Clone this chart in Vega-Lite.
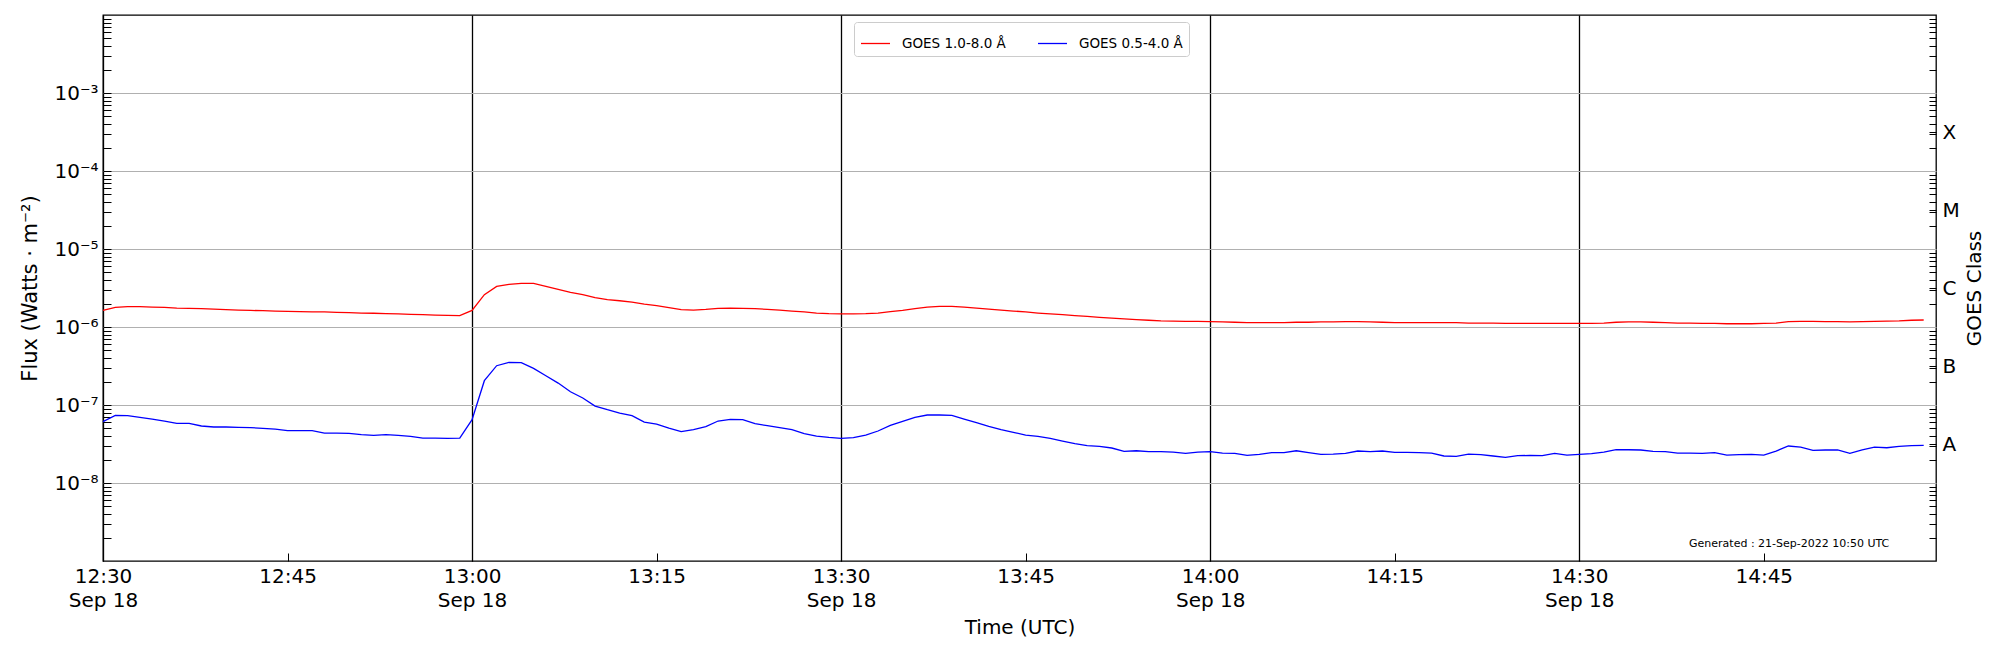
{
  "$schema": "https://vega.github.io/schema/vega-lite/v6.json",
  "width": 1833,
  "height": 546,
  "autosize": {"type": "none"},
  "padding": {"left": 103, "top": 15, "right": 64, "bottom": 89},
  "background": "white",
  "config": {
    "font": "DejaVu Sans",
    "view": {"stroke": "black", "strokeWidth": 1.3}
  },
  "datasets": {
    "xrsb": [
      {"t":"2022-09-18T12:30:00Z","flux":1.63e-6},{"t":"2022-09-18T12:31:00Z","flux":1.79e-6},{"t":"2022-09-18T12:32:00Z","flux":1.82e-6},{"t":"2022-09-18T12:33:00Z","flux":1.82e-6},{"t":"2022-09-18T12:34:00Z","flux":1.80e-6},
      {"t":"2022-09-18T12:35:00Z","flux":1.79e-6},{"t":"2022-09-18T12:36:00Z","flux":1.75e-6},{"t":"2022-09-18T12:37:00Z","flux":1.73e-6},{"t":"2022-09-18T12:38:00Z","flux":1.72e-6},{"t":"2022-09-18T12:39:00Z","flux":1.70e-6},
      {"t":"2022-09-18T12:40:00Z","flux":1.67e-6},{"t":"2022-09-18T12:41:00Z","flux":1.65e-6},{"t":"2022-09-18T12:42:00Z","flux":1.63e-6},{"t":"2022-09-18T12:43:00Z","flux":1.62e-6},{"t":"2022-09-18T12:44:00Z","flux":1.60e-6},
      {"t":"2022-09-18T12:45:00Z","flux":1.59e-6},{"t":"2022-09-18T12:46:00Z","flux":1.57e-6},{"t":"2022-09-18T12:47:00Z","flux":1.56e-6},{"t":"2022-09-18T12:48:00Z","flux":1.56e-6},{"t":"2022-09-18T12:49:00Z","flux":1.54e-6},
      {"t":"2022-09-18T12:50:00Z","flux":1.53e-6},{"t":"2022-09-18T12:51:00Z","flux":1.51e-6},{"t":"2022-09-18T12:52:00Z","flux":1.50e-6},{"t":"2022-09-18T12:53:00Z","flux":1.48e-6},{"t":"2022-09-18T12:54:00Z","flux":1.47e-6},
      {"t":"2022-09-18T12:55:00Z","flux":1.45e-6},{"t":"2022-09-18T12:56:00Z","flux":1.44e-6},{"t":"2022-09-18T12:57:00Z","flux":1.42e-6},{"t":"2022-09-18T12:58:00Z","flux":1.41e-6},{"t":"2022-09-18T12:59:00Z","flux":1.40e-6},
      {"t":"2022-09-18T13:00:00Z","flux":1.63e-6},{"t":"2022-09-18T13:01:00Z","flux":2.60e-6},{"t":"2022-09-18T13:02:00Z","flux":3.32e-6},{"t":"2022-09-18T13:03:00Z","flux":3.52e-6},{"t":"2022-09-18T13:04:00Z","flux":3.63e-6},
      {"t":"2022-09-18T13:05:00Z","flux":3.63e-6},{"t":"2022-09-18T13:06:00Z","flux":3.32e-6},{"t":"2022-09-18T13:07:00Z","flux":3.04e-6},{"t":"2022-09-18T13:08:00Z","flux":2.78e-6},{"t":"2022-09-18T13:09:00Z","flux":2.60e-6},
      {"t":"2022-09-18T13:10:00Z","flux":2.38e-6},{"t":"2022-09-18T13:11:00Z","flux":2.24e-6},{"t":"2022-09-18T13:12:00Z","flux":2.17e-6},{"t":"2022-09-18T13:13:00Z","flux":2.09e-6},{"t":"2022-09-18T13:14:00Z","flux":1.97e-6},
      {"t":"2022-09-18T13:15:00Z","flux":1.88e-6},{"t":"2022-09-18T13:16:00Z","flux":1.77e-6},{"t":"2022-09-18T13:17:00Z","flux":1.67e-6},{"t":"2022-09-18T13:18:00Z","flux":1.65e-6},{"t":"2022-09-18T13:19:00Z","flux":1.68e-6},
      {"t":"2022-09-18T13:20:00Z","flux":1.73e-6},{"t":"2022-09-18T13:21:00Z","flux":1.75e-6},{"t":"2022-09-18T13:22:00Z","flux":1.73e-6},{"t":"2022-09-18T13:23:00Z","flux":1.72e-6},{"t":"2022-09-18T13:24:00Z","flux":1.68e-6},
      {"t":"2022-09-18T13:25:00Z","flux":1.65e-6},{"t":"2022-09-18T13:26:00Z","flux":1.60e-6},{"t":"2022-09-18T13:27:00Z","flux":1.56e-6},{"t":"2022-09-18T13:28:00Z","flux":1.51e-6},{"t":"2022-09-18T13:29:00Z","flux":1.48e-6},
      {"t":"2022-09-18T13:30:00Z","flux":1.47e-6},{"t":"2022-09-18T13:31:00Z","flux":1.47e-6},{"t":"2022-09-18T13:32:00Z","flux":1.48e-6},{"t":"2022-09-18T13:33:00Z","flux":1.51e-6},{"t":"2022-09-18T13:34:00Z","flux":1.57e-6},
      {"t":"2022-09-18T13:35:00Z","flux":1.63e-6},{"t":"2022-09-18T13:36:00Z","flux":1.72e-6},{"t":"2022-09-18T13:37:00Z","flux":1.80e-6},{"t":"2022-09-18T13:38:00Z","flux":1.84e-6},{"t":"2022-09-18T13:39:00Z","flux":1.84e-6},
      {"t":"2022-09-18T13:40:00Z","flux":1.80e-6},{"t":"2022-09-18T13:41:00Z","flux":1.75e-6},{"t":"2022-09-18T13:42:00Z","flux":1.70e-6},{"t":"2022-09-18T13:43:00Z","flux":1.65e-6},{"t":"2022-09-18T13:44:00Z","flux":1.60e-6},
      {"t":"2022-09-18T13:45:00Z","flux":1.56e-6},{"t":"2022-09-18T13:46:00Z","flux":1.51e-6},{"t":"2022-09-18T13:47:00Z","flux":1.47e-6},{"t":"2022-09-18T13:48:00Z","flux":1.44e-6},{"t":"2022-09-18T13:49:00Z","flux":1.40e-6},
      {"t":"2022-09-18T13:50:00Z","flux":1.37e-6},{"t":"2022-09-18T13:51:00Z","flux":1.33e-6},{"t":"2022-09-18T13:52:00Z","flux":1.30e-6},{"t":"2022-09-18T13:53:00Z","flux":1.27e-6},{"t":"2022-09-18T13:54:00Z","flux":1.24e-6},
      {"t":"2022-09-18T13:55:00Z","flux":1.22e-6},{"t":"2022-09-18T13:56:00Z","flux":1.20e-6},{"t":"2022-09-18T13:57:00Z","flux":1.19e-6},{"t":"2022-09-18T13:58:00Z","flux":1.18e-6},{"t":"2022-09-18T13:59:00Z","flux":1.18e-6},
      {"t":"2022-09-18T14:00:00Z","flux":1.17e-6},{"t":"2022-09-18T14:01:00Z","flux":1.16e-6},{"t":"2022-09-18T14:02:00Z","flux":1.15e-6},{"t":"2022-09-18T14:03:00Z","flux":1.14e-6},{"t":"2022-09-18T14:04:00Z","flux":1.14e-6},
      {"t":"2022-09-18T14:05:00Z","flux":1.14e-6},{"t":"2022-09-18T14:06:00Z","flux":1.14e-6},{"t":"2022-09-18T14:07:00Z","flux":1.15e-6},{"t":"2022-09-18T14:08:00Z","flux":1.15e-6},{"t":"2022-09-18T14:09:00Z","flux":1.16e-6},
      {"t":"2022-09-18T14:10:00Z","flux":1.16e-6},{"t":"2022-09-18T14:11:00Z","flux":1.17e-6},{"t":"2022-09-18T14:12:00Z","flux":1.17e-6},{"t":"2022-09-18T14:13:00Z","flux":1.16e-6},{"t":"2022-09-18T14:14:00Z","flux":1.15e-6},
      {"t":"2022-09-18T14:15:00Z","flux":1.14e-6},{"t":"2022-09-18T14:16:00Z","flux":1.14e-6},{"t":"2022-09-18T14:17:00Z","flux":1.14e-6},{"t":"2022-09-18T14:18:00Z","flux":1.14e-6},{"t":"2022-09-18T14:19:00Z","flux":1.14e-6},
      {"t":"2022-09-18T14:20:00Z","flux":1.14e-6},{"t":"2022-09-18T14:21:00Z","flux":1.12e-6},{"t":"2022-09-18T14:22:00Z","flux":1.12e-6},{"t":"2022-09-18T14:23:00Z","flux":1.12e-6},{"t":"2022-09-18T14:24:00Z","flux":1.11e-6},
      {"t":"2022-09-18T14:25:00Z","flux":1.11e-6},{"t":"2022-09-18T14:26:00Z","flux":1.11e-6},{"t":"2022-09-18T14:27:00Z","flux":1.11e-6},{"t":"2022-09-18T14:28:00Z","flux":1.11e-6},{"t":"2022-09-18T14:29:00Z","flux":1.11e-6},
      {"t":"2022-09-18T14:30:00Z","flux":1.11e-6},{"t":"2022-09-18T14:31:00Z","flux":1.11e-6},{"t":"2022-09-18T14:32:00Z","flux":1.12e-6},{"t":"2022-09-18T14:33:00Z","flux":1.15e-6},{"t":"2022-09-18T14:34:00Z","flux":1.16e-6},
      {"t":"2022-09-18T14:35:00Z","flux":1.16e-6},{"t":"2022-09-18T14:36:00Z","flux":1.15e-6},{"t":"2022-09-18T14:37:00Z","flux":1.14e-6},{"t":"2022-09-18T14:38:00Z","flux":1.12e-6},{"t":"2022-09-18T14:39:00Z","flux":1.12e-6},
      {"t":"2022-09-18T14:40:00Z","flux":1.11e-6},{"t":"2022-09-18T14:41:00Z","flux":1.11e-6},{"t":"2022-09-18T14:42:00Z","flux":1.10e-6},{"t":"2022-09-18T14:43:00Z","flux":1.10e-6},{"t":"2022-09-18T14:44:00Z","flux":1.10e-6},
      {"t":"2022-09-18T14:45:00Z","flux":1.11e-6},{"t":"2022-09-18T14:46:00Z","flux":1.12e-6},{"t":"2022-09-18T14:47:00Z","flux":1.17e-6},{"t":"2022-09-18T14:48:00Z","flux":1.18e-6},{"t":"2022-09-18T14:49:00Z","flux":1.18e-6},
      {"t":"2022-09-18T14:50:00Z","flux":1.17e-6},{"t":"2022-09-18T14:51:00Z","flux":1.17e-6},{"t":"2022-09-18T14:52:00Z","flux":1.16e-6},{"t":"2022-09-18T14:53:00Z","flux":1.17e-6},{"t":"2022-09-18T14:54:00Z","flux":1.18e-6},
      {"t":"2022-09-18T14:55:00Z","flux":1.19e-6},{"t":"2022-09-18T14:56:00Z","flux":1.20e-6},{"t":"2022-09-18T14:57:00Z","flux":1.22e-6},{"t":"2022-09-18T14:58:00Z","flux":1.23e-6}
    ],
    "xrsa": [
      {"t":"2022-09-18T12:30:00Z","flux":6.11e-8},{"t":"2022-09-18T12:31:00Z","flux":7.36e-8},{"t":"2022-09-18T12:32:00Z","flux":7.29e-8},{"t":"2022-09-18T12:33:00Z","flux":6.94e-8},{"t":"2022-09-18T12:34:00Z","flux":6.61e-8},
      {"t":"2022-09-18T12:35:00Z","flux":6.23e-8},{"t":"2022-09-18T12:36:00Z","flux":5.82e-8},{"t":"2022-09-18T12:37:00Z","flux":5.82e-8},{"t":"2022-09-18T12:38:00Z","flux":5.38e-8},{"t":"2022-09-18T12:39:00Z","flux":5.22e-8},
      {"t":"2022-09-18T12:40:00Z","flux":5.22e-8},{"t":"2022-09-18T12:41:00Z","flux":5.17e-8},{"t":"2022-09-18T12:42:00Z","flux":5.12e-8},{"t":"2022-09-18T12:43:00Z","flux":5.02e-8},{"t":"2022-09-18T12:44:00Z","flux":4.92e-8},
      {"t":"2022-09-18T12:45:00Z","flux":4.68e-8},{"t":"2022-09-18T12:46:00Z","flux":4.68e-8},{"t":"2022-09-18T12:47:00Z","flux":4.68e-8},{"t":"2022-09-18T12:48:00Z","flux":4.37e-8},{"t":"2022-09-18T12:49:00Z","flux":4.37e-8},
      {"t":"2022-09-18T12:50:00Z","flux":4.33e-8},{"t":"2022-09-18T12:51:00Z","flux":4.16e-8},{"t":"2022-09-18T12:52:00Z","flux":4.08e-8},{"t":"2022-09-18T12:53:00Z","flux":4.16e-8},{"t":"2022-09-18T12:54:00Z","flux":4.08e-8},
      {"t":"2022-09-18T12:55:00Z","flux":3.96e-8},{"t":"2022-09-18T12:56:00Z","flux":3.77e-8},{"t":"2022-09-18T12:57:00Z","flux":3.77e-8},{"t":"2022-09-18T12:58:00Z","flux":3.74e-8},{"t":"2022-09-18T12:59:00Z","flux":3.77e-8},
      {"t":"2022-09-18T13:00:00Z","flux":6.48e-8},{"t":"2022-09-18T13:01:00Z","flux":2.05e-7},{"t":"2022-09-18T13:02:00Z","flux":3.19e-7},{"t":"2022-09-18T13:03:00Z","flux":3.52e-7},{"t":"2022-09-18T13:04:00Z","flux":3.49e-7},
      {"t":"2022-09-18T13:05:00Z","flux":2.95e-7},{"t":"2022-09-18T13:06:00Z","flux":2.37e-7},{"t":"2022-09-18T13:07:00Z","flux":1.91e-7},{"t":"2022-09-18T13:08:00Z","flux":1.48e-7},{"t":"2022-09-18T13:09:00Z","flux":1.23e-7},
      {"t":"2022-09-18T13:10:00Z","flux":9.70e-8},{"t":"2022-09-18T13:11:00Z","flux":8.71e-8},{"t":"2022-09-18T13:12:00Z","flux":7.89e-8},{"t":"2022-09-18T13:13:00Z","flux":7.29e-8},{"t":"2022-09-18T13:14:00Z","flux":6.05e-8},
      {"t":"2022-09-18T13:15:00Z","flux":5.70e-8},{"t":"2022-09-18T13:16:00Z","flux":5.07e-8},{"t":"2022-09-18T13:17:00Z","flux":4.55e-8},{"t":"2022-09-18T13:18:00Z","flux":4.82e-8},{"t":"2022-09-18T13:19:00Z","flux":5.27e-8},
      {"t":"2022-09-18T13:20:00Z","flux":6.23e-8},{"t":"2022-09-18T13:21:00Z","flux":6.54e-8},{"t":"2022-09-18T13:22:00Z","flux":6.48e-8},{"t":"2022-09-18T13:23:00Z","flux":5.76e-8},{"t":"2022-09-18T13:24:00Z","flux":5.43e-8},
      {"t":"2022-09-18T13:25:00Z","flux":5.12e-8},{"t":"2022-09-18T13:26:00Z","flux":4.82e-8},{"t":"2022-09-18T13:27:00Z","flux":4.29e-8},{"t":"2022-09-18T13:28:00Z","flux":4.00e-8},{"t":"2022-09-18T13:29:00Z","flux":3.85e-8},
      {"t":"2022-09-18T13:30:00Z","flux":3.74e-8},{"t":"2022-09-18T13:31:00Z","flux":3.81e-8},{"t":"2022-09-18T13:32:00Z","flux":4.12e-8},{"t":"2022-09-18T13:33:00Z","flux":4.64e-8},{"t":"2022-09-18T13:34:00Z","flux":5.48e-8},
      {"t":"2022-09-18T13:35:00Z","flux":6.17e-8},{"t":"2022-09-18T13:36:00Z","flux":6.94e-8},{"t":"2022-09-18T13:37:00Z","flux":7.44e-8},{"t":"2022-09-18T13:38:00Z","flux":7.44e-8},{"t":"2022-09-18T13:39:00Z","flux":7.36e-8},
      {"t":"2022-09-18T13:40:00Z","flux":6.61e-8},{"t":"2022-09-18T13:41:00Z","flux":5.93e-8},{"t":"2022-09-18T13:42:00Z","flux":5.32e-8},{"t":"2022-09-18T13:43:00Z","flux":4.82e-8},{"t":"2022-09-18T13:44:00Z","flux":4.46e-8},
      {"t":"2022-09-18T13:45:00Z","flux":4.12e-8},{"t":"2022-09-18T13:46:00Z","flux":3.96e-8},{"t":"2022-09-18T13:47:00Z","flux":3.74e-8},{"t":"2022-09-18T13:48:00Z","flux":3.45e-8},{"t":"2022-09-18T13:49:00Z","flux":3.19e-8},
      {"t":"2022-09-18T13:50:00Z","flux":3.01e-8},{"t":"2022-09-18T13:51:00Z","flux":2.95e-8},{"t":"2022-09-18T13:52:00Z","flux":2.81e-8},{"t":"2022-09-18T13:53:00Z","flux":2.54e-8},{"t":"2022-09-18T13:54:00Z","flux":2.59e-8},
      {"t":"2022-09-18T13:55:00Z","flux":2.52e-8},{"t":"2022-09-18T13:56:00Z","flux":2.52e-8},{"t":"2022-09-18T13:57:00Z","flux":2.49e-8},{"t":"2022-09-18T13:58:00Z","flux":2.40e-8},{"t":"2022-09-18T13:59:00Z","flux":2.49e-8},
      {"t":"2022-09-18T14:00:00Z","flux":2.52e-8},{"t":"2022-09-18T14:01:00Z","flux":2.42e-8},{"t":"2022-09-18T14:02:00Z","flux":2.40e-8},{"t":"2022-09-18T14:03:00Z","flux":2.26e-8},{"t":"2022-09-18T14:04:00Z","flux":2.33e-8},
      {"t":"2022-09-18T14:05:00Z","flux":2.45e-8},{"t":"2022-09-18T14:06:00Z","flux":2.45e-8},{"t":"2022-09-18T14:07:00Z","flux":2.59e-8},{"t":"2022-09-18T14:08:00Z","flux":2.45e-8},{"t":"2022-09-18T14:09:00Z","flux":2.33e-8},
      {"t":"2022-09-18T14:10:00Z","flux":2.35e-8},{"t":"2022-09-18T14:11:00Z","flux":2.40e-8},{"t":"2022-09-18T14:12:00Z","flux":2.57e-8},{"t":"2022-09-18T14:13:00Z","flux":2.52e-8},{"t":"2022-09-18T14:14:00Z","flux":2.57e-8},
      {"t":"2022-09-18T14:15:00Z","flux":2.47e-8},{"t":"2022-09-18T14:16:00Z","flux":2.47e-8},{"t":"2022-09-18T14:17:00Z","flux":2.45e-8},{"t":"2022-09-18T14:18:00Z","flux":2.42e-8},{"t":"2022-09-18T14:19:00Z","flux":2.22e-8},
      {"t":"2022-09-18T14:20:00Z","flux":2.20e-8},{"t":"2022-09-18T14:21:00Z","flux":2.35e-8},{"t":"2022-09-18T14:22:00Z","flux":2.31e-8},{"t":"2022-09-18T14:23:00Z","flux":2.22e-8},{"t":"2022-09-18T14:24:00Z","flux":2.13e-8},
      {"t":"2022-09-18T14:25:00Z","flux":2.24e-8},{"t":"2022-09-18T14:26:00Z","flux":2.26e-8},{"t":"2022-09-18T14:27:00Z","flux":2.24e-8},{"t":"2022-09-18T14:28:00Z","flux":2.40e-8},{"t":"2022-09-18T14:29:00Z","flux":2.28e-8},
      {"t":"2022-09-18T14:30:00Z","flux":2.33e-8},{"t":"2022-09-18T14:31:00Z","flux":2.38e-8},{"t":"2022-09-18T14:32:00Z","flux":2.49e-8},{"t":"2022-09-18T14:33:00Z","flux":2.67e-8},{"t":"2022-09-18T14:34:00Z","flux":2.67e-8},
      {"t":"2022-09-18T14:35:00Z","flux":2.65e-8},{"t":"2022-09-18T14:36:00Z","flux":2.54e-8},{"t":"2022-09-18T14:37:00Z","flux":2.52e-8},{"t":"2022-09-18T14:38:00Z","flux":2.42e-8},{"t":"2022-09-18T14:39:00Z","flux":2.42e-8},
      {"t":"2022-09-18T14:40:00Z","flux":2.40e-8},{"t":"2022-09-18T14:41:00Z","flux":2.45e-8},{"t":"2022-09-18T14:42:00Z","flux":2.28e-8},{"t":"2022-09-18T14:43:00Z","flux":2.31e-8},{"t":"2022-09-18T14:44:00Z","flux":2.33e-8},
      {"t":"2022-09-18T14:45:00Z","flux":2.28e-8},{"t":"2022-09-18T14:46:00Z","flux":2.57e-8},{"t":"2022-09-18T14:47:00Z","flux":2.98e-8},{"t":"2022-09-18T14:48:00Z","flux":2.89e-8},{"t":"2022-09-18T14:49:00Z","flux":2.62e-8},
      {"t":"2022-09-18T14:50:00Z","flux":2.65e-8},{"t":"2022-09-18T14:51:00Z","flux":2.65e-8},{"t":"2022-09-18T14:52:00Z","flux":2.40e-8},{"t":"2022-09-18T14:53:00Z","flux":2.65e-8},{"t":"2022-09-18T14:54:00Z","flux":2.89e-8},
      {"t":"2022-09-18T14:55:00Z","flux":2.83e-8},{"t":"2022-09-18T14:56:00Z","flux":2.95e-8},{"t":"2022-09-18T14:57:00Z","flux":3.01e-8},{"t":"2022-09-18T14:58:00Z","flux":3.04e-8}
    ],
    "note": [
      {"t":"2022-09-18T14:55:12Z","flux":1.67e-9,"label":"Generated : 21-Sep-2022 10:50 UTC"}
    ]
  },
  "encoding": {
    "x": {
      "field": "t",
      "type": "temporal",
      "scale": {
        "type": "utc",
        "nice": false,
        "domain": [1663504200000, 1663513140000]
      },
      "axis": {
        "title": "Time (UTC)",
        "titleFontSize": 20,
        "titleFontWeight": "normal",
        "titleBaseline": "alphabetic",
        "titleY": 72,
        "values": [1663504200000, 1663505100000, 1663506000000, 1663506900000, 1663507800000, 1663508700000, 1663509600000, 1663510500000, 1663511400000, 1663512300000],
        "labelExpr": "utcminutes(datum.value) % 30 == 0 ? [utcFormat(datum.value, '%H:%M'), utcFormat(datum.value, '%b %d')] : utcFormat(datum.value, '%H:%M')",
        "labelFontSize": 20,
        "labelLineHeight": 24,
        "labelColor": "black",
        "labelFlush": false,
        "labelOverlap": false,
        "tickSize": -8,
        "tickColor": "black",
        "labelPadding": 13,
        "domain": false,
        "grid": true,
        "gridColor": "black",
        "gridWidth": 1.3,
        "gridOpacity": {"condition": {"test": "utcminutes(datum.value) % 30 == 0", "value": 1}, "value": 0}
      }
    }
  },
  "layer": [
    {
      "data": {"name": "xrsb"},
      "mark": {"type": "line", "strokeWidth": 1.3},
      "encoding": {
        "y": {
          "field": "flux",
          "type": "quantitative",
          "scale": {"type": "log", "domain": [1e-9, 1e-2], "nice": false},
          "axis": {
            "orient": "left",
            "title": "Flux (Watts · m⁻²)",
            "titleFontSize": 21,
            "titleFontWeight": "normal",
            "titleAngle": 270,
            "titleBaseline": "alphabetic",
            "titleAlign": "center",
            "titleX": -67,
            "titleY": 273,
            "values": [2e-9,3e-9,4e-9,5e-9,6e-9,7e-9,8e-9,9e-9,1e-8,2e-8,3e-8,4e-8,5e-8,6e-8,7e-8,8e-8,9e-8,1e-7,2e-7,3e-7,4e-7,5e-7,6e-7,7e-7,8e-7,9e-7,1e-6,2e-6,3e-6,4e-6,5e-6,6e-6,7e-6,8e-6,9e-6,1e-5,2e-5,3e-5,4e-5,5e-5,6e-5,7e-5,8e-5,9e-5,1e-4,2e-4,3e-4,4e-4,5e-4,6e-4,7e-4,8e-4,9e-4,1e-3,2e-3,3e-3,4e-3,5e-3,6e-3,7e-3,8e-3,9e-3],
            "labelExpr": "abs(log(datum.value)/LN10 - round(log(datum.value)/LN10)) < 0.01 && round(log(datum.value)/LN10) >= -8 && round(log(datum.value)/LN10) <= -3 ? '10⁻' + ['⁰','¹','²','³','⁴','⁵','⁶','⁷','⁸','⁹'][-round(log(datum.value)/LN10)] : ''",
            "labelFontSize": 20,
            "labelColor": "black",
            "labelOverlap": false,
            "labelPadding": 13,
            "tickColor": "black",
            "tickSize": -8,
            "domain": false,
            "grid": true,
            "gridColor": "#b0b0b0",
            "gridWidth": 1,
            "gridOpacity": {"condition": {"test": "abs(log(datum.value)/LN10 - round(log(datum.value)/LN10)) < 0.01", "value": 1}, "value": 0}
          }
        },
        "color": {
          "datum": "GOES 1.0-8.0 Å",
          "type": "nominal",
          "scale": {"domain": ["GOES 1.0-8.0 Å", "GOES 0.5-4.0 Å"], "range": ["#ff0000", "#0000ff"]},
          "legend": {
            "title": null,
            "orient": "none",
            "legendX": 751,
            "legendY": 7,
            "direction": "horizontal",
            "symbolType": "stroke",
            "symbolSize": 841,
            "symbolStrokeWidth": 1.3,
            "labelFontSize": 13.5,
            "labelColor": "black",
            "labelOffset": 11,
            "labelLimit": 300,
            "columnPadding": 29,
            "padding": 6,
            "fillColor": "white",
            "strokeColor": "#cccccc",
            "cornerRadius": 3
          }
        }
      }
    },
    {
      "data": {"name": "xrsa"},
      "mark": {"type": "line", "strokeWidth": 1.3},
      "encoding": {
        "y": {"field": "flux", "type": "quantitative", "axis": null},
        "color": {"datum": "GOES 0.5-4.0 Å", "type": "nominal"}
      }
    },
    {
      "data": {"name": "note"},
      "mark": {"type": "text", "align": "right", "baseline": "middle", "fontSize": 11, "color": "black"},
      "encoding": {
        "y": {
          "field": "flux",
          "type": "quantitative",
          "axis": {
            "orient": "right",
            "title": "GOES Class",
            "titleFontSize": 20,
            "titleFontWeight": "normal",
            "titleAngle": 270,
            "titleBaseline": "alphabetic",
            "titleAlign": "center",
            "titleX": 44,
            "titleY": 273,
            "values": [2e-9,3e-9,4e-9,5e-9,6e-9,7e-9,8e-9,9e-9,2e-8,3e-8,3.16e-8,4e-8,5e-8,6e-8,7e-8,8e-8,9e-8,2e-7,3e-7,3.16e-7,4e-7,5e-7,6e-7,7e-7,8e-7,9e-7,2e-6,3e-6,3.16e-6,4e-6,5e-6,6e-6,7e-6,8e-6,9e-6,2e-5,3e-5,3.16e-5,4e-5,5e-5,6e-5,7e-5,8e-5,9e-5,2e-4,3e-4,3.16e-4,4e-4,5e-4,6e-4,7e-4,8e-4,9e-4,2e-3,3e-3,4e-3,5e-3,6e-3,7e-3,8e-3,9e-3],
            "labelExpr": "abs(datum.value / pow(10, floor(log(datum.value)/LN10)) - 3.16) < 0.05 ? ['X','M','C','B','A'][-floor(log(datum.value)/LN10) - 4] : ''",
            "labelFontSize": 20,
            "labelColor": "black",
            "labelOverlap": false,
            "labelPadding": 13,
            "tickColor": "black",
            "tickSize": -7,
            "domain": false,
            "grid": false
          }
        },
        "text": {"field": "label"}
      }
    }
  ],
  "resolve": {"axis": {"y": "independent"}}
}
